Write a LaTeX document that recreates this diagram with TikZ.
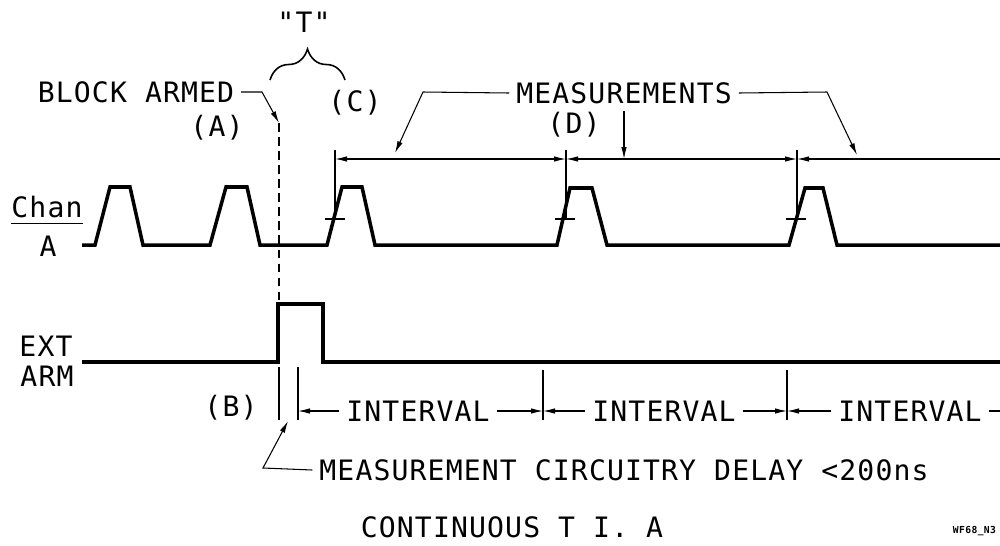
\documentclass[tikz,border=0pt]{standalone}
\usepackage{fontspec}
\newfontfamily\plotfont[LetterSpace=4]{DejaVu Sans Mono}
\usetikzlibrary{arrows.meta,positioning,calc,decorations.pathreplacing}

\begin{document}
\begin{tikzpicture}[
    x=0.02cm, y=-0.02cm,
    font=\plotfont\fontsize{16}{18}\selectfont,
    lbl/.style={inner sep=0pt, outer sep=4pt},
    wave/.style={line width=2pt, line join=miter},
    thin/.style={line width=0.6pt},
    arrow/.style={thin, -{Latex[length=2.4mm,width=1.1mm]}},
    dimarrow/.style={thin, {Latex[length=2.4mm,width=1.1mm]}-{Latex[length=2.4mm,width=1.1mm]}}
]
\useasboundingbox (0,0) rectangle (1000,545);

% Channel labels
\node[lbl, outer sep=0pt] (chan) at (47,207) {Chan};
\draw[thin] ([yshift=-3pt]chan.south west) -- ([yshift=-3pt]chan.south east);
\node[lbl] (chanA) at (48,246) {A};
\node[lbl] (ext) at (46,346) {EXT};
\node[lbl] (arm) at (47,376) {ARM};

% Chan A waveform
\draw[wave] (82,245) -- (95,245) -- (110,187) -- (130,187) -- (143,245)
    -- (210,245) -- (226,187) -- (247,187) -- (260,245)
    -- (327,245) -- (342,187) -- (362,187) -- (375,245)
    -- (557,245) -- (570,188) -- (592,188) -- (607,245)
    -- (789,245) -- (805,188) -- (823,188) -- (837,245) -- (1000,245);

% EXT ARM waveform
\draw[wave] (82,362) -- (278,362) -- (278,304) -- (323,304) -- (323,362) -- (1000,362);

% trigger points on the rising edges
\draw[thin] (325,219) -- (345,219);
\draw[thin] (555,219) -- (575,219);
\draw[thin] (786,219) -- (806,219);
\draw[thin] (335,150) -- (335,219);
\draw[thin] (566,150) -- (566,219);
\draw[thin] (797,150) -- (797,219);

% Block armed
\node[lbl] (blockarmed) at (136,92) {BLOCK ARMED};
\node[lbl] (lblA) at (217,128) {(A)};
\coordinate (armtip) at (279,123);
\draw[arrow] (blockarmed.east) -- (262,92) -- (armtip);
\draw[thin, dash pattern=on 5pt off 3pt] (armtip) -- (279,362);

% "T" brace
\node[lbl] (tquote) at (304,22) {"T"};
\draw[line width=0.9pt, decorate, decoration={brace, amplitude=0.62cm}] (270,80) -- (345,80);
\node[lbl] (lblC) at (355,103) {(C)};

% Measurements
\node[lbl] (meas) at (624,93) {MEASUREMENTS};
\node[lbl] (lblD) at (574,125) {(D)};
\coordinate (m3) at (335,159);
\coordinate (m4) at (566,159);
\coordinate (m5) at (797,159);
\coordinate (mend) at (1000,159);
\draw[dimarrow] (m3) -- (m4);
\draw[dimarrow] (m4) -- (m5);
\draw[thin, {Latex[length=2.4mm,width=1.1mm]}-] (m5) -- (mend);
\draw[arrow] (meas.west) -- (423,92) -- (395,153);
\draw[arrow] (meas.east) -- (827,92) -- (857,155);
\draw[arrow] (meas.south) -- (meas.south |- m3);

% Intervals
\node[lbl] (lblB) at (231,408) {(B)};
\draw[thin] (279,367) -- (279,420);
\draw[thin] (298,367) -- (298,420);
\draw[thin] (543,370) -- (543,420);
\draw[thin] (787,370) -- (787,420);
\coordinate (b2) at (298,411);
\coordinate (k1) at (543,411);
\coordinate (k2) at (787,411);
\coordinate (ivend) at (1000,411);
\node[lbl] (iv1) at (418,411) {INTERVAL};
\node[lbl] (iv2) at (664,411) {INTERVAL};
\node[lbl] (iv3) at (910,411) {INTERVAL};
\draw[arrow] (iv1.west) -- (b2);
\draw[arrow] (iv1.east) -- (k1);
\draw[arrow] (iv2.west) -- (k1);
\draw[arrow] (iv2.east) -- (k2);
\draw[arrow] (iv3.west) -- (k2);
\draw[thin] (iv3.east) -- (ivend);

% Delay note and title
\node[lbl] (mcd) at (624,470) {MEASUREMENT CIRCUITRY DELAY <200ns};
\coordinate (delay) at (288,421);
\draw[arrow] (mcd.west) -- (263,468) -- (delay);
\node[lbl] (title) at (512,527) {CONTINUOUS T I. A};
\node[lbl, outer sep=0pt, anchor=east, font=\plotfont\fontsize{5.5}{7}\selectfont\bfseries] (figno) at (996,531) {WF68\_N3};

\end{tikzpicture}
\end{document}
